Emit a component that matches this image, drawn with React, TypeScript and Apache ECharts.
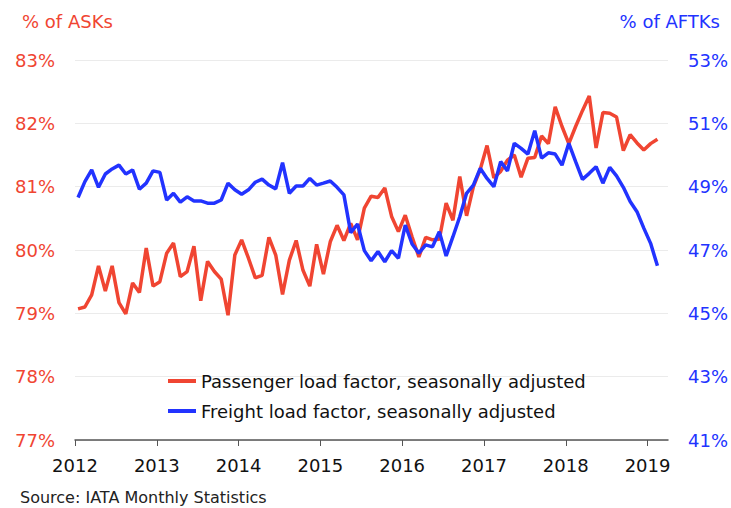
import React, { useEffect, useRef } from "react";
import * as echarts from "echarts";

const startYear = 2012;
const yearTicks = [2012, 2013, 2014, 2015, 2016, 2017, 2018, 2019];

const passengerLF = [
  79.07, 79.10, 79.29, 79.75, 79.35, 79.75, 79.17, 78.99, 79.48, 79.33, 80.03, 79.43,
  79.50, 79.95, 80.11, 79.58, 79.66, 80.06, 79.20, 79.82, 79.66, 79.54, 78.97, 79.92,
  80.16, 79.87, 79.56, 79.60, 80.20, 79.92, 79.30, 79.84, 80.15, 79.68, 79.43, 80.09,
  79.62, 80.13, 80.39, 80.15, 80.42, 80.16, 80.66, 80.85, 80.83, 80.98, 80.53, 80.29,
  80.55, 80.21, 79.89, 80.20, 80.16, 80.17, 80.74, 80.47, 81.16, 80.54, 81.00, 81.27,
  81.65, 81.14, 81.24, 81.42, 81.50, 81.15, 81.45, 81.46, 81.80, 81.68, 82.26, 81.95,
  81.68, 81.95, 82.20, 82.43, 81.61, 82.17, 82.16, 82.10, 81.57, 81.82, 81.69, 81.58,
  81.68, 81.75,
];

const freightLF = [
  48.66, 49.16, 49.53, 48.98, 49.40, 49.56, 49.68, 49.40, 49.53, 48.92, 49.11, 49.50,
  49.45, 48.58, 48.79, 48.51, 48.68, 48.55, 48.55, 48.48, 48.48, 48.58, 49.11, 48.90,
  48.76, 48.90, 49.14, 49.24, 49.05, 48.93, 49.76, 48.79, 49.02, 49.02, 49.26, 49.05,
  49.11, 49.18, 48.98, 48.74, 47.55, 47.82, 46.98, 46.66, 46.95, 46.63, 46.98, 46.74,
  47.79, 47.19, 46.90, 47.16, 47.10, 47.58, 46.81, 47.42, 48.05, 48.79, 49.05, 49.58,
  49.26, 49.00, 49.79, 49.50, 50.37, 50.21, 50.03, 50.77, 49.90, 50.07, 50.03, 49.68,
  50.37, 49.79, 49.23, 49.42, 49.63, 49.11, 49.61, 49.34, 48.98, 48.53, 48.21, 47.69,
  47.21, 46.50,
];

const leftTitle = "% of ASKs";
const rightTitle = "% of AFTKs";
const passengerName = "Passenger load factor, seasonally adjusted";
const freightName = "Freight load factor, seasonally adjusted";
const sourceText = "Source: IATA Monthly Statistics";

const RED = "#F04532";
const BLUE = "#2233FF";
const FONT = "DejaVu Sans, Liberation Sans, sans-serif";

// month position: mid-month of each month starting Jan 2012
const monthX = (i: number) => startYear + (i + 0.45) / 12;

export default function App() {
  const ref = useRef<HTMLDivElement>(null);
  useEffect(() => {
    if (!ref.current) return;
    const chart = echarts.init(ref.current, undefined, { renderer: "svg" });
    chart.setOption({
      animation: false,
      textStyle: { fontFamily: FONT },
      grid: { left: 75, right: 63, top: 60, bottom: 68, containLabel: false },
      legend: {
        orient: "vertical",
        left: 163,
        top: 367,
        itemWidth: 28,
        itemHeight: 4,
        itemGap: 12,
        icon: "rect",
        textStyle: { fontSize: 18, color: "#111", fontFamily: FONT },
        data: [passengerName, freightName],
      },
      xAxis: {
        type: "value",
        min: 2012,
        max: 2019.25,
        interval: 1,
        splitLine: { show: false },
        axisLine: { show: true, lineStyle: { color: "#555", width: 1.5 } },
        axisTick: { show: true, length: 6, lineStyle: { color: "#555" }, customValues: yearTicks },
        axisLabel: {
          customValues: yearTicks,
          fontSize: 18,
          color: "#111",
          margin: 16,
          fontFamily: FONT,
          formatter: (v: number) => String(Math.round(v)),
        },
      },
      yAxis: [
        {
          type: "value",
          min: 77,
          max: 83,
          interval: 1,
          position: "left",
          axisLine: { show: false },
          axisTick: { show: false },
          splitLine: { lineStyle: { color: "#EBEBEB", width: 1 } },
          axisLabel: { fontSize: 18, color: RED, margin: 20, formatter: "{value}%", fontFamily: FONT },
        },
        {
          type: "value",
          min: 41,
          max: 53,
          interval: 2,
          position: "right",
          axisLine: { show: false },
          axisTick: { show: false },
          splitLine: { show: false },
          axisLabel: { fontSize: 18, color: BLUE, margin: 20, formatter: "{value}%", fontFamily: FONT },
        },
      ],
      series: [
        {
          name: passengerName,
          type: "line",
          yAxisIndex: 0,
          showSymbol: false,
          lineStyle: { color: RED, width: 3.5 },
          itemStyle: { color: RED },
          data: passengerLF.map((v, i) => [monthX(i), v]),
        },
        {
          name: freightName,
          type: "line",
          yAxisIndex: 1,
          showSymbol: false,
          lineStyle: { color: BLUE, width: 3.5 },
          itemStyle: { color: BLUE },
          data: freightLF.map((v, i) => [monthX(i), v]),
        },
      ],
      graphic: [
        {
          type: "text",
          left: 22,
          top: 12,
          style: { text: leftTitle, fill: RED, fontSize: 18, fontFamily: FONT },
        },
        {
          type: "text",
          right: 11,
          top: 12,
          style: { text: rightTitle, fill: BLUE, fontSize: 18, fontFamily: FONT },
        },
        {
          type: "text",
          left: 20,
          top: 489,
          style: { text: sourceText, fill: "#222", fontSize: 16, fontFamily: FONT },
        },
      ],
    });
    return () => chart.dispose();
  }, []);
  return <div ref={ref} style={{ width: 731, height: 508, position: "absolute", left: 0, top: 0 }} />;
}
